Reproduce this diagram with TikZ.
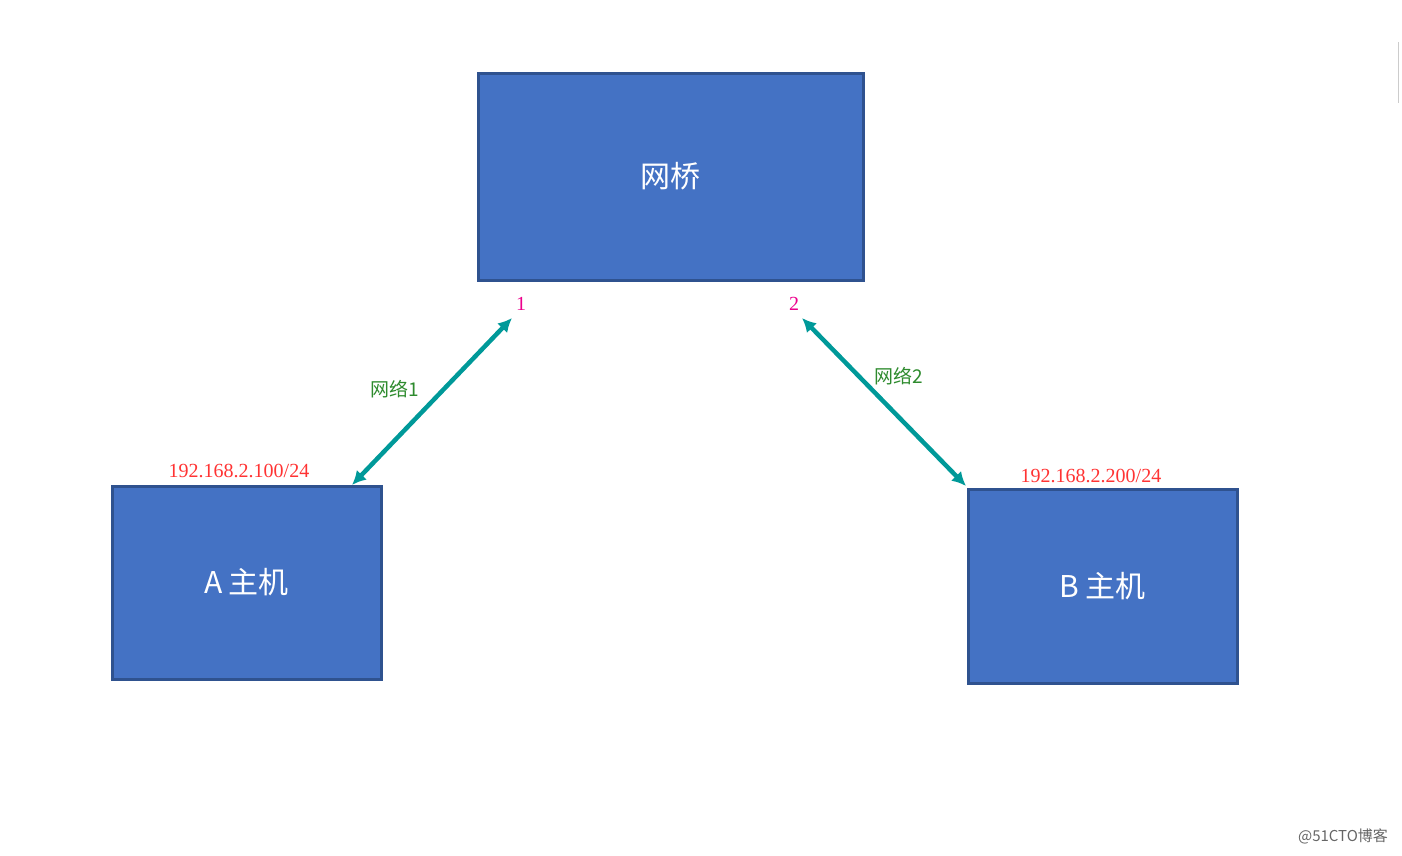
\documentclass[tikz,border=0pt]{standalone}
\usepackage{fontspec}
\setmainfont{Liberation Serif}
\newfontfamily\cjk{Noto Sans CJK SC}
\usetikzlibrary{arrows.meta}
\definecolor{boxfill}{HTML}{4472C4}
\definecolor{boxline}{HTML}{2F528F}
\definecolor{teal2}{HTML}{009999}
\definecolor{ipred}{HTML}{FF3333}
\definecolor{netgreen}{HTML}{2E8B2E}
\begin{document}
\begin{tikzpicture}[x=1pt,y=-1pt,
  box/.style={draw=boxline,fill=boxfill,line width=3pt,inner sep=0pt,text=white,font=\cjk\fontsize{30}{30}\selectfont},
  link/.style={draw=teal2,line width=4.5pt,{Latex[length=14pt,width=14pt]}-{Latex[length=14pt,width=14pt]},shorten >=0pt,shorten <=0pt},
  ip/.style={text=ipred,font=\fontsize{20}{20}\selectfont},
  net/.style={text=netgreen,font=\cjk\fontsize{19}{19}\selectfont},
  port/.style={text=magenta,font=\fontsize{20}{20}\selectfont}]
\useasboundingbox (0,0) rectangle (1402,855);
\node[box,minimum width=385pt,minimum height=207pt] (br) at (670.5,176.5) {网桥};
\node[box,minimum width=269pt,minimum height=193pt] (a) at (246.5,582.5) {A 主机};
\node[box,minimum width=269pt,minimum height=194pt] (b) at (1102.5,586) {B 主机};
\coordinate (a1) at (352,485);
\coordinate (p1) at (512,318);
\coordinate (b1) at (966,486);
\coordinate (p2) at (802,318);
\draw[link] (a1) -- (p1);
\draw[link] (b1) -- (p2);
\node[port] (n1) at (521,304) {1};
\node[port] (n2) at (794,304) {2};
\node[net] (w1) at (395,389) {网络1};
\node[net] (w2) at (899,376) {网络2};
\node[ip] (ipa) at (239,471) {192.168.2.100/24};
\node[ip] (ipb) at (1091,476) {192.168.2.200/24};
\node[text=gray!80!black,font=\cjk\fontsize{15}{15}\selectfont] (wm) at (1343,836) {@51CTO博客};
\draw[gray!40,line width=1pt] (1398,42) -- (1398,103);
\end{tikzpicture}
\end{document}
